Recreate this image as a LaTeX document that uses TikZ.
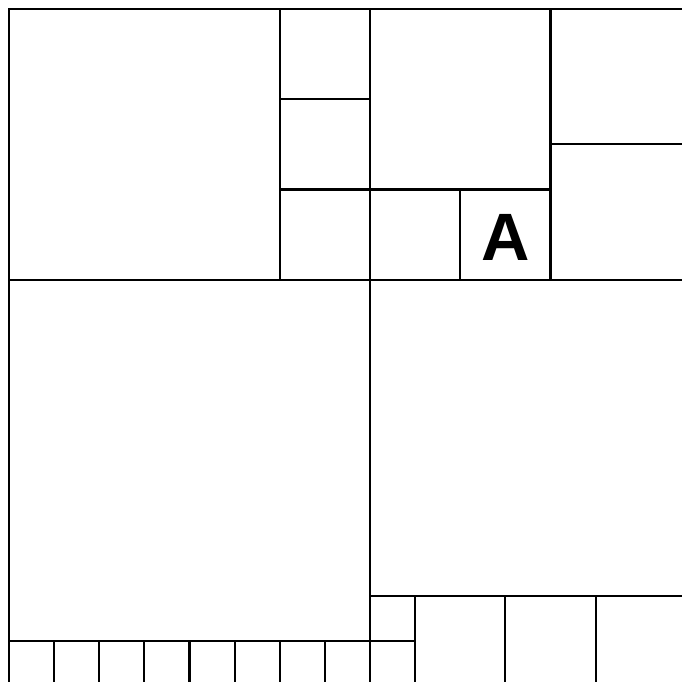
\documentclass[tikz,border=0pt]{standalone}
\usepackage{fontspec}
\setmainfont{Liberation Sans}
\begin{document}
\begin{tikzpicture}[x=1pt,y=-1pt]
\useasboundingbox (0,0) rectangle (682,681);
\clip (0,0) rectangle (682,681);
\fill[white] (0,0) rectangle (682,681);
\begin{scope}[shift={(9,9)},x=90.25pt,y=-90.25pt,
  cell/.style={draw=black,line width=2.2pt}]
  \draw[cell] (0,0) rectangle (3,3);
  \draw[cell] (3,0) rectangle (4,1);
  \draw[cell] (3,1) rectangle (4,2);
  \draw[cell] (3,2) rectangle (4,3);
  \draw[cell] (4,0) rectangle (6,2);
  \draw[cell] (4,2) rectangle (5,3);
  \draw[cell] (5,2) rectangle (6,3);
  \draw[cell] (6,0) rectangle (7.5,1.5);
  \draw[cell] (6,1.5) rectangle (7.5,3);
  \draw[cell] (0,3) rectangle (4,7);
  \foreach \i in {0,0.5,...,3.5} {\draw[cell] (\i,7) rectangle (\i+0.5,7.5);}
  \draw[cell] (4,6.5) rectangle (4.5,7);
  \draw[cell] (4,7) rectangle (4.5,7.5);
  \draw[cell] (4,3) rectangle (7.5,6.5);
  \draw[cell] (4.5,6.5) rectangle (5.5,7.5);
  \draw[cell] (5.5,6.5) rectangle (6.5,7.5);
  \draw[cell] (6.5,6.5) rectangle (7.5,7.5);
  \node[font=\fontsize{67}{67}\selectfont\bfseries,inner sep=0pt,yshift=-2.5pt] (labelA) at (5.5,2.5) {A};
\end{scope}
\end{tikzpicture}
\end{document}
